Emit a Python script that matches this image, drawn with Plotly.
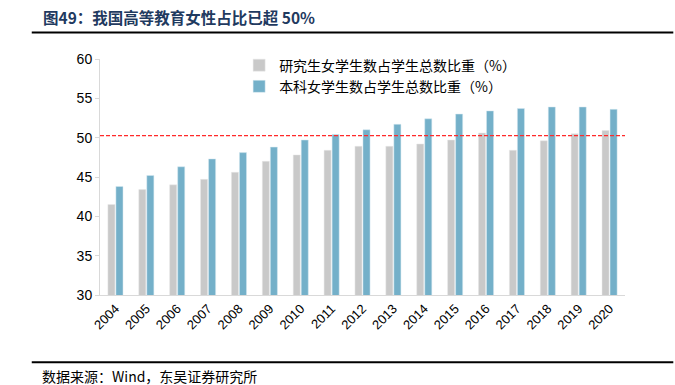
import plotly.graph_objects as go

years = [str(y) for y in range(2004, 2021)]
grad_share = [41.5, 43.4, 44.0, 44.7, 45.6, 47.0, 47.8, 48.4, 48.9, 48.9, 49.2, 49.7, 50.6, 48.4, 49.6, 50.5, 50.9]
undergrad_share = [43.8, 45.2, 46.3, 47.3, 48.1, 48.8, 49.7, 50.4, 51.0, 51.7, 52.4, 53.0, 53.4, 53.7, 53.9, 53.9, 53.6]
ref_level = 50.25

name_grad = "研究生女学生数占学生总数比重（%）"
name_ug = "本科女学生数占学生总数比重（%）"
title_text = "图49：我国高等教育女性占比已超 50%"
source_text = "数据来源：Wind，东吴证券研究所"

cjk = "Noto Sans CJK SC"
latin = "Liberation Sans, Arial"

fig = go.Figure()
fig.add_trace(go.Bar(x=years, y=grad_share, name=name_grad,
                     marker=dict(color="#c9c9c9", line=dict(color="#e8e8e8", width=0.5))))
fig.add_trace(go.Bar(x=years, y=undergrad_share, name=name_ug,
                     marker=dict(color="#74b0c9", line=dict(color="#d6e8f0", width=0.5))))

fig.add_shape(type="line", xref="paper", yref="y", x0=0, x1=1, y0=ref_level, y1=ref_level,
              line=dict(color="#ff2a2a", width=1.3, dash="4px,2px"))

# title and rules
fig.add_annotation(text="<b>" + title_text + "</b>", xref="paper", yref="paper",
                   x=-0.112, y=1.18, xanchor="left", yanchor="middle", showarrow=False,
                   font=dict(family="Noto Sans CJK SC", size=15.5, color="#1f3a60"))
fig.add_shape(type="line", xref="paper", yref="paper", x0=-0.13, x1=1.092, y0=1.112, y1=1.112,
              line=dict(color="#000000", width=2))
fig.add_shape(type="line", xref="paper", yref="paper", x0=-0.13, x1=1.092, y0=-0.285, y1=-0.285,
              line=dict(color="#000000", width=2))
fig.add_annotation(text=source_text, xref="paper", yref="paper",
                   x=-0.114, y=-0.345, xanchor="left", yanchor="middle", showarrow=False,
                   font=dict(family=cjk, size=14, color="#000000"))

fig.update_layout(
    width=675, height=385,
    margin=dict(l=100, r=50, t=59, b=90),
    paper_bgcolor="white", plot_bgcolor="white",
    barmode="group", bargap=0.48, bargroupgap=0.12,
    font=dict(family=latin, size=13, color="#000000"),
    legend=dict(x=0.265, y=1.04, xanchor="left", yanchor="top",
                font=dict(family=cjk, size=14, color="#000000"),
                bgcolor="rgba(0,0,0,0)", tracegroupgap=0, itemwidth=30),
    showlegend=True,
)
fig.update_yaxes(range=[30, 60], dtick=5, showgrid=False, showline=True, linecolor="#d9d9d9",
                 ticks="outside", ticklen=4, tickcolor="#d9d9d9", zeroline=False,
                 tickfont=dict(family=latin, size=14, color="#000000"))
fig.update_xaxes(showgrid=False, showline=True, linecolor="#d9d9d9", ticks="",
                 tickangle=-45, tickfont=dict(family=latin, size=13, color="#000000"))

fig.write_html("out.html", config={"displayModeBar": False},
               post_script="document.body.style.margin='0';")
